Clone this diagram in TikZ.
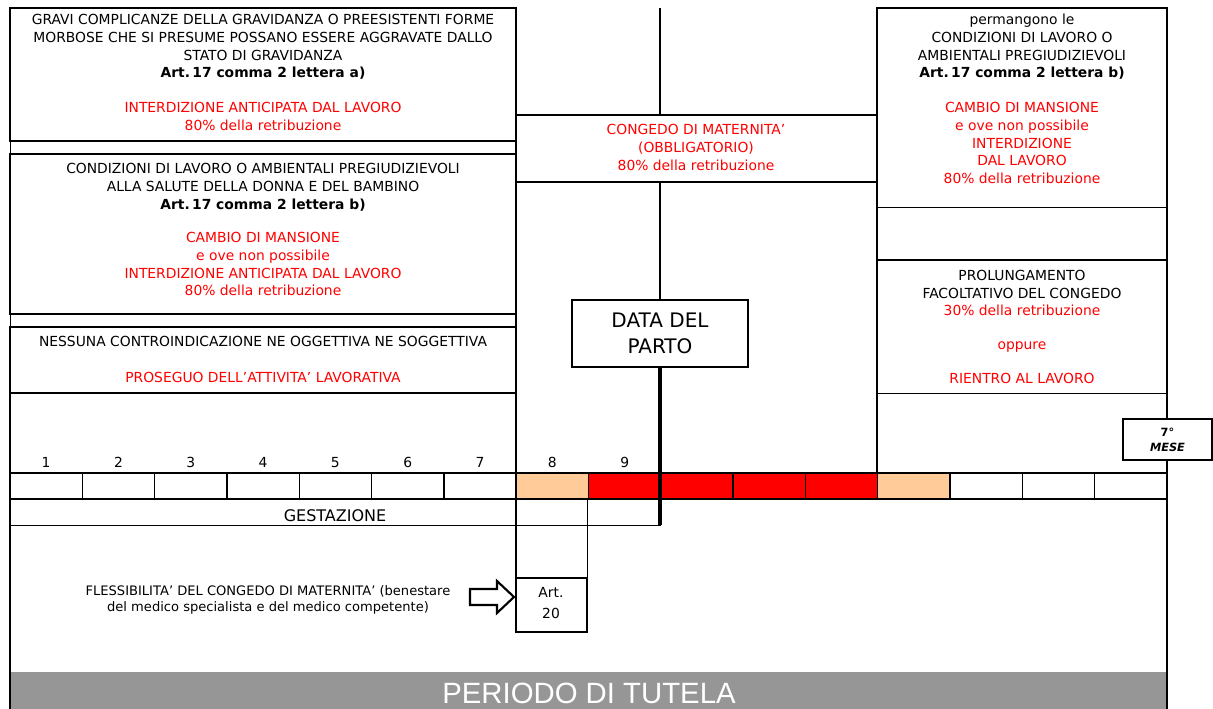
\documentclass[tikz,border=0pt]{standalone}
\usepackage{fontspec}
\setmainfont{DejaVu Sans}
\newfontfamily\tutelafont{Liberation Sans}
\usepackage{tikz}
\definecolor{peach}{RGB}{255,204,153}
\definecolor{avviso_red}{RGB}{255,0,0}
\definecolor{tutela_gray}{RGB}{150,150,150}

\tikzset{
	cella/.style={draw=black,line width=0.75pt},
	riquadro/.style={draw=black,line width=1.6pt},
	testo/.style={align=center,inner sep=0pt,font=\fontsize{10.4}{13.3}\selectfont},
	rosso/.style={testo,text=avviso_red},
}

\begin{document}
\begin{tikzpicture}[x=0.75pt,y=-0.75pt]
	\useasboundingbox (0,0) rectangle (1213,709);

	\fill[tutela_gray] (10,672) rectangle (1167,709);

	\draw[cella] (10,141) rectangle (516,154);
	\draw[cella] (10,314) rectangle (516,327);
	\draw[cella] (877,208) rectangle (1167,260);
	\draw[cella] (877,393) rectangle (1167,473);
	\draw[cella] (10,499) rectangle (516,525);
	\draw[cella] (516,499) rectangle (587,525);
	\draw[cella] (587,499) rectangle (660,525);
	\draw[cella] (587,525) -- (587,578);

	\draw[riquadro] (10,8) rectangle (516,141);
	\draw[riquadro] (10,154) rectangle (516,314);
	\draw[riquadro] (10,327) rectangle (516,393);
	\draw[riquadro] (516,115) rectangle (877,182);
	\draw[riquadro] (877,208) -- (877,8) -- (1167,8) -- (1167,208);
	\draw[riquadro] (877,260) -- (1167,260);
	\draw[riquadro] (10,393) -- (10,709);
	\draw[riquadro] (516,8) -- (516,632);
	\draw[riquadro] (877,8) -- (877,473);
	\draw[riquadro] (1167,8) -- (1167,709);
	\draw[line width=1.2pt] (516,578) rectangle (587,632);

	\foreach \i/\c in {0/white,1/white,2/white,3/white,4/white,5/white,6/white,7/peach,8/red,9/red,10/red,11/red,12/peach,13/white,14/white,15/white}
		\draw[cella,line width=1.1pt,fill=\c] ({10+72.3125*\i},473) rectangle ({10+72.3125*(\i+1)},499);
	\foreach \n in {1,...,9}
		\node[testo,anchor=base] (mese\n) at ({10+72.3125*(\n-0.5)},467) {\n};

	\node[draw=black,line width=1.6pt,fill=white,minimum width=132pt,minimum height=50pt,align=center,font=\fontsize{15}{19}\selectfont] (parto) at (660,333.5) {DATA DEL\\PARTO};
	\draw[line width=2.2pt] (660,8) -- (660,115);
	\draw[line width=2.2pt] (660,182) -- (parto.north);
	\draw[line width=3.6pt] (parto.south) -- (660,525);

	\node[draw=black,line width=1.6pt,fill=white,minimum width=67pt,minimum height=31pt,align=center,inner sep=0pt,font=\fontsize{8.5}{11}\selectfont] (mese7) at (1167.5,439.5) {\textbf{7°}\\\textbf{\textit{MESE}}};

	\node[testo,anchor=north] (gravi) at (263,14) {GRAVI COMPLICANZE DELLA GRAVIDANZA O PREESISTENTI FORME\\MORBOSE CHE SI PRESUME POSSANO ESSERE AGGRAVATE DALLO\\STATO DI GRAVIDANZA\\\textbf{Art.\,17 comma 2 lettera a)}};
	\node[rosso,anchor=north] (interdizione) at (263,102) {INTERDIZIONE ANTICIPATA DAL LAVORO\\80\% della retribuzione};

	\node[testo,anchor=north] (condizioni) at (263,163) {CONDIZIONI DI LAVORO O AMBIENTALI PREGIUDIZIEVOLI\\ALLA SALUTE DELLA DONNA E DEL BAMBINO\\\textbf{Art.\,17 comma 2 lettera b)}};
	\node[rosso,anchor=north] (mansione) at (263,232) {CAMBIO DI MANSIONE\\e ove non possibile\\INTERDIZIONE ANTICIPATA DAL LAVORO\\80\% della retribuzione};

	\node[testo] (nessuna) at (263,341) {NESSUNA CONTROINDICAZIONE NE OGGETTIVA NE SOGGETTIVA};
	\node[rosso] (proseguo) at (263,377) {PROSEGUO DELL'ATTIVITA' LAVORATIVA};

	\node[rosso,anchor=north] (congedo) at (696,124) {CONGEDO DI MATERNITA'\\(OBBLIGATORIO)\\80\% della retribuzione};

	\node[testo,anchor=north] (permangono) at (1022,14) {permangono le\\CONDIZIONI DI LAVORO O\\AMBIENTALI PREGIUDIZIEVOLI\\\textbf{Art.\,17 comma 2 lettera b)}};
	\node[rosso,anchor=north] (mansione2) at (1022,102) {CAMBIO DI MANSIONE\\e ove non possibile\\INTERDIZIONE\\DAL LAVORO\\80\% della retribuzione};

	\node[testo,anchor=north] (prolungamento) at (1022,270) {PROLUNGAMENTO\\FACOLTATIVO DEL CONGEDO};
	\node[rosso,anchor=north] (rientro) at (1022,305) {30\% della retribuzione\\[12pt]oppure\\[12pt]RIENTRO AL LAVORO};

	\node[testo,font=\fontsize{12}{14}\selectfont] (gestazione) at (335,516) {GESTAZIONE};

	\node[testo,font=\fontsize{9.8}{12}\selectfont] (flessibilita) at (268,600) {FLESSIBILITA' DEL CONGEDO DI MATERNITA' (benestare\\del medico specialista e del medico competente)};
	\node[testo] (artventi) at (551,603) {Art.\\[2pt]20};
	\draw[line width=1.6pt,fill=white] (470,589) -- (497,589) -- (497,581) -- (514,597) -- (497,613) -- (497,605) -- (470,605) -- cycle;

	\node[text=white,font=\tutelafont\fontsize{22}{26}\selectfont] (tutela) at (589,693) {PERIODO DI TUTELA};
\end{tikzpicture}
\end{document}
